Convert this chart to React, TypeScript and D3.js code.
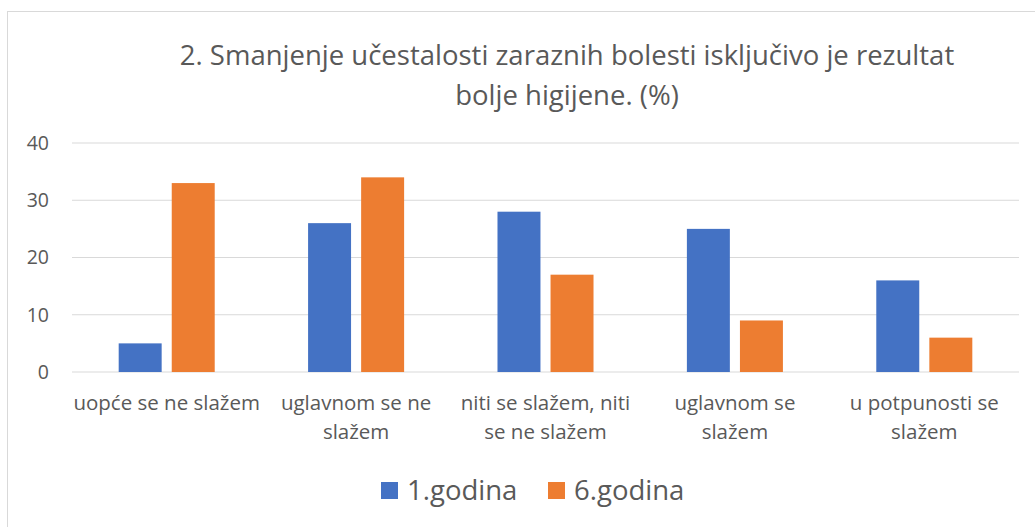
import React, { useEffect, useRef } from 'react';
import * as d3 from 'd3';

const categories = [
  ['uopće se ne slažem'],
  ['uglavnom se ne', 'slažem'],
  ['niti se slažem, niti', 'se ne slažem'],
  ['uglavnom se', 'slažem'],
  ['u potpunosti se', 'slažem'],
];
const seriesNames = ['1.godina', '6.godina'];
const godina1 = [5, 26, 28, 25, 16];
const godina6 = [33, 34, 17, 9, 6];
const yTicks = [0, 10, 20, 30, 40];
const colors = ['#4472C4', '#ED7D31'];

export default function App() {
  const svgRef = useRef<SVGSVGElement>(null);

  useEffect(() => {
    if (!svgRef.current) return;
    const width = 1035;
    const height = 527;
    const margin = { top: 143, right: 16, bottom: 155, left: 72 };
    const font = '"Open Sans", "Noto Sans", sans-serif';
    const textColor = '#595959';

    const svg = d3.select(svgRef.current);
    svg.selectAll('*').remove();

    svg.append('rect')
      .attr('x', 7.5).attr('y', 11.5)
      .attr('width', width).attr('height', height)
      .attr('fill', '#fff')
      .attr('stroke', '#d9d9d9');

    svg.append('text')
      .attr('x', 567).attr('y', 65)
      .attr('text-anchor', 'middle')
      .attr('font-family', font).attr('font-size', 27.5)
      .attr('fill', textColor)
      .selectAll('tspan')
      .data(['2. Smanjenje učestalosti zaraznih bolesti isključivo je rezultat', 'bolje higijene. (%)'])
      .enter().append('tspan')
      .attr('x', 567)
      .attr('dy', (_d, i) => (i === 0 ? 0 : 40))
      .text(d => d);

    const x = d3.scaleBand<number>()
      .domain(d3.range(categories.length))
      .range([margin.left, width - margin.right]);
    const x1 = d3.scaleBand<number>()
      .domain([0, 1])
      .range([0, x.bandwidth()])
      .paddingInner(0.19)
      .paddingOuter(0.88);
    const y = d3.scaleLinear().domain([0, 40]).range([height - margin.bottom, margin.top]);

    const g = svg.append('g');
    g.selectAll('.grid')
      .data(yTicks)
      .enter().append('line')
      .attr('x1', margin.left).attr('x2', width - margin.right)
      .attr('y1', d => y(d)).attr('y2', d => y(d))
      .attr('stroke', '#d9d9d9').attr('stroke-width', 1.2);

    g.selectAll('.ytick')
      .data(yTicks)
      .enter().append('text')
      .attr('x', 49).attr('y', d => y(d))
      .attr('dy', '0.35em')
      .attr('text-anchor', 'end')
      .attr('font-family', font).attr('font-size', 19.5)
      .attr('fill', textColor)
      .text(d => d);

    const series = [godina1, godina6];
    series.forEach((vals, si) => {
      g.selectAll(`.bar${si}`)
        .data(vals)
        .enter().append('rect')
        .attr('x', (_d, i) => (x(i) as number) + (x1(si) as number))
        .attr('y', d => y(d))
        .attr('width', x1.bandwidth())
        .attr('height', d => y(0) - y(d))
        .attr('fill', colors[si]);
    });

    const lab = g.selectAll('.cat')
      .data(categories)
      .enter().append('text')
      .attr('text-anchor', 'middle')
      .attr('font-family', font).attr('font-size', 20.5)
      .attr('fill', textColor)
      .attr('y', 410);
    lab.selectAll('tspan')
      .data((d, i) => d.map(t => ({ t, i })))
      .enter().append('tspan')
      .attr('x', d => (x(d.i) as number) + x.bandwidth() / 2)
      .attr('dy', (_d, j) => (j === 0 ? 0 : 29))
      .text(d => d.t);

    const legendX = [381, 548];
    const legend = svg.selectAll('.legend')
      .data(seriesNames)
      .enter().append('g')
      .attr('transform', (_d, i) => `translate(${legendX[i]},482)`);
    legend.append('rect')
      .attr('width', 17).attr('height', 17)
      .attr('fill', (_d, i) => colors[i]);
    legend.append('text')
      .attr('x', 26).attr('y', 18)
      .attr('font-family', font).attr('font-size', 27.5)
      .attr('fill', textColor)
      .text(d => d);
  }, []);

  return (
    <svg ref={svgRef} width={1035} height={527}
      style={{ position: 'absolute', left: 0, top: 0, display: 'block' }} />
  );
}
